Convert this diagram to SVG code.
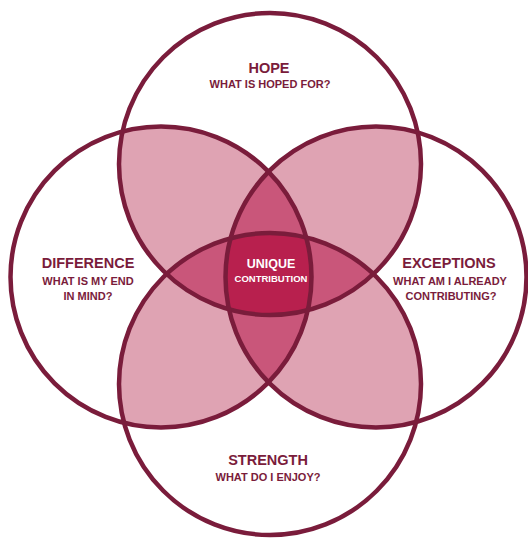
<svg xmlns="http://www.w3.org/2000/svg" width="528" height="538" viewBox="0 0 528 538">
<style>
.ring{fill:none;stroke:#7a1c3b;stroke-width:4.5}
.light{fill:#dfa3b3}
.mid{fill:#c9567a}
.dark{fill:#b8204e}
.t{font-family:"Liberation Sans",Arial,sans-serif;font-weight:bold;fill:#7a1c3b;text-anchor:middle}
.h{font-size:14.5px}
.s{font-size:11px}
</style>
<defs>
<clipPath id="cT"><circle cx="270" cy="164" r="151"/></clipPath>
<clipPath id="cB"><circle cx="270" cy="384" r="151"/></clipPath>
<clipPath id="cL"><circle cx="161" cy="277" r="150.5"/></clipPath>
<clipPath id="cR"><circle cx="376" cy="277" r="150.5"/></clipPath>
</defs>
<rect width="528" height="538" fill="#fff"/>
<g id="overlaps">
<circle class="light" cx="161" cy="277" r="150.5" clip-path="url(#cT)"/>
<circle class="light" cx="161" cy="277" r="150.5" clip-path="url(#cB)"/>
<circle class="light" cx="376" cy="277" r="150.5" clip-path="url(#cT)"/>
<circle class="light" cx="376" cy="277" r="150.5" clip-path="url(#cB)"/>
<circle class="mid" cx="270" cy="164" r="151" clip-path="url(#cB)"/>
<circle class="mid" cx="161" cy="277" r="150.5" clip-path="url(#cR)"/>
<g clip-path="url(#cL)"><g clip-path="url(#cR)"><circle class="dark" cx="270" cy="164" r="151" clip-path="url(#cB)"/></g></g>
</g>
<g id="hope">
<circle class="ring" cx="270" cy="164" r="151"/>
<text class="t h" x="269" y="73">HOPE</text>
<text class="t s" x="270" y="88">WHAT IS HOPED FOR?</text>
</g>
<g id="strength">
<circle class="ring" cx="270" cy="384" r="151"/>
<text class="t h" x="268" y="465">STRENGTH</text>
<text class="t s" x="268" y="481">WHAT DO I ENJOY?</text>
</g>
<g id="difference">
<circle class="ring" cx="161" cy="277" r="150.5"/>
<text class="t h" x="88" y="268">DIFFERENCE</text>
<text class="t s" x="88" y="285">WHAT IS MY END</text>
<text class="t s" x="88" y="300">IN MIND?</text>
</g>
<g id="exceptions">
<circle class="ring" cx="376" cy="277" r="150.5"/>
<text class="t h" x="449" y="268">EXCEPTIONS</text>
<text class="t s" x="450" y="285">WHAT AM I ALREADY</text>
<text class="t s" x="451" y="300">CONTRIBUTING?</text>
</g>
<g id="unique">
<text class="t" style="fill:#fff;font-size:12.5px" x="271" y="268">UNIQUE</text>
<text class="t" style="fill:#fff;font-size:9.5px" x="271" y="282">CONTRIBUTION</text>
</g>
</svg>
